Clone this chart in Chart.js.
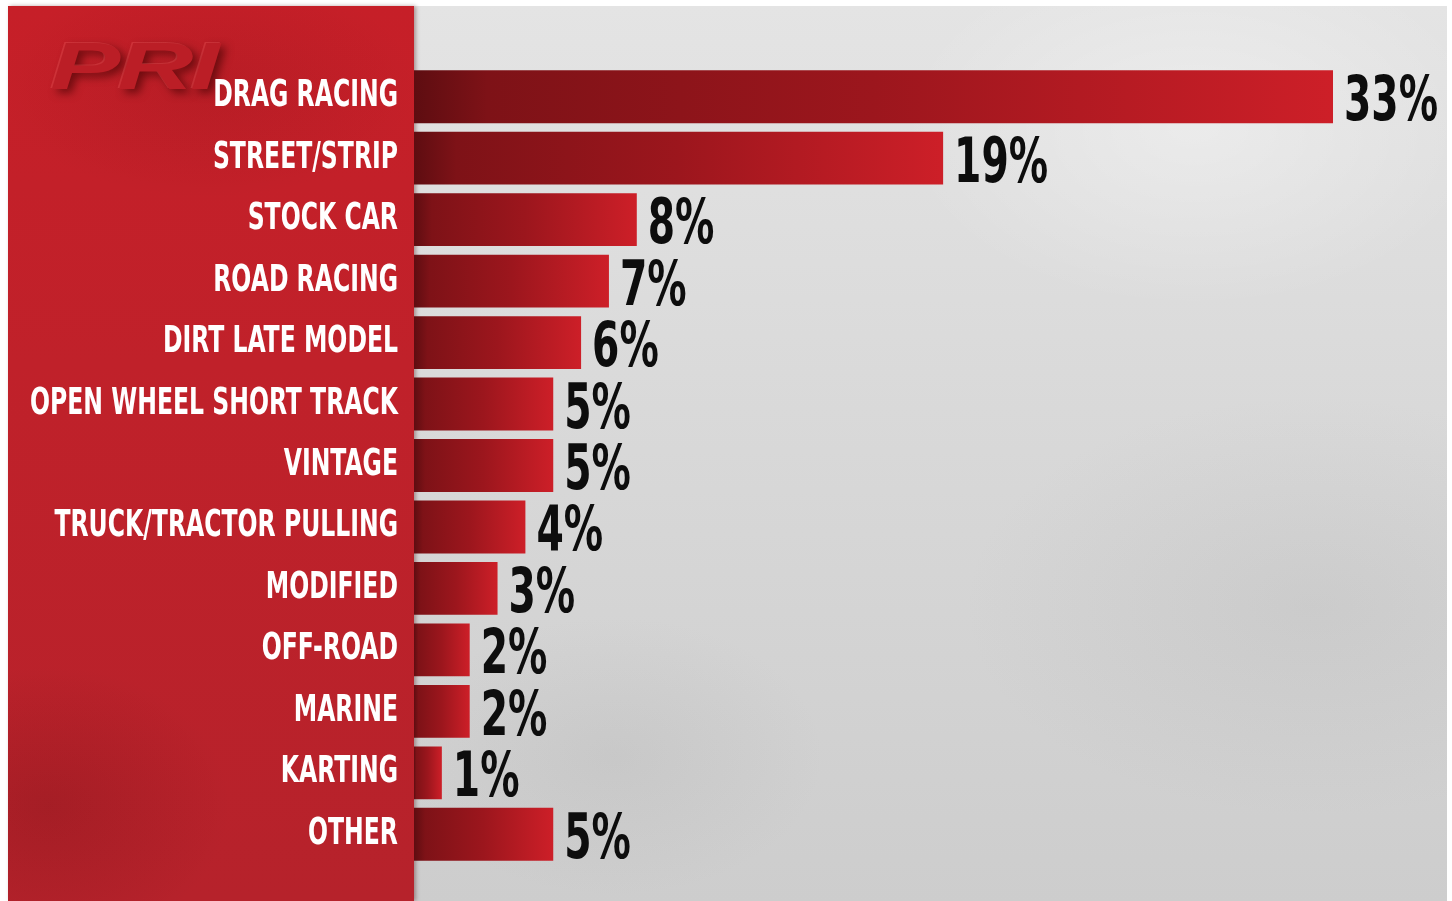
<!DOCTYPE html>
<html lang="en">
<head>
    <meta charset="UTF-8">
    <title>Racing Segments</title>
    <style>
        html, body {
            margin: 0;
            padding: 0;
            background: #ffffff;
        }
        .page {
            position: relative;
            width: 1452px;
            height: 901px;
            overflow: hidden;
        }
        .concrete {
            position: absolute;
            left: 414px;
            top: 6px;
            width: 1033px;
            height: 895px;
            background:
                radial-gradient(ellipse 420px 260px at 780px 120px, rgba(255,255,255,0.35), rgba(255,255,255,0) 70%),
                radial-gradient(ellipse 500px 300px at 900px 600px, rgba(150,150,150,0.14), rgba(150,150,150,0) 70%),
                radial-gradient(ellipse 300px 200px at 200px 750px, rgba(140,140,140,0.12), rgba(140,140,140,0) 70%),
                linear-gradient(180deg, #e4e4e4 0%, #d9d9d9 45%, #cdcdcd 100%);
        }
        .panel {
            position: absolute;
            left: 8px;
            top: 6px;
            width: 406px;
            height: 895px;
            background:
                radial-gradient(ellipse 260px 200px at 40px 800px, rgba(80,10,12,0.18), rgba(80,10,12,0) 70%),
                radial-gradient(ellipse 300px 160px at 200px 80px, rgba(90,10,14,0.12), rgba(90,10,14,0) 70%),
                linear-gradient(180deg, #c61f28 0%, #c0212a 40%, #b6222b 100%);
            box-shadow: 2px 0 4px rgba(60,0,0,0.35);
        }
        .logo {
            position: absolute;
            left: 50px;
            top: 28px;
            font-family: "Liberation Sans", Arial, sans-serif;
            font-weight: bold;
            font-style: italic;
            font-size: 66px;
            letter-spacing: -2px;
            color: #bb1e26;
            transform: scaleX(1.6);
            transform-origin: left top;
            text-shadow: -1px -1px 0 rgba(255,110,110,0.25), 3px 4px 7px rgba(60,0,0,0.6);
        }
        .chart-box {
            position: absolute;
            left: 0;
            top: 0;
            width: 1452px;
            height: 901px;
        }
    </style>
</head>
<body>
<div class="page">
    <div class="concrete"></div>
    <div class="panel"></div>
    <div class="logo">PRI</div>
    <div class="chart-box">
        <canvas id="chart"></canvas>
    </div>
</div>

<script src="https://cdn.jsdelivr.net/npm/chart.js"></script>
<script>
    const categories = [
        'DRAG RACING', 'STREET/STRIP', 'STOCK CAR', 'ROAD RACING', 'DIRT LATE MODEL',
        'OPEN WHEEL SHORT TRACK', 'VINTAGE', 'TRUCK/TRACTOR PULLING', 'MODIFIED',
        'OFF-ROAD', 'MARINE', 'KARTING', 'OTHER'
    ];
    const shares = [33, 19, 8, 7, 6, 5, 5, 4, 3, 2, 2, 1, 5];

    const labelFont = 'bold 37px "Liberation Sans Narrow", "DejaVu Sans Condensed", sans-serif';
    const valueFont = 'bold 62px "Liberation Sans Narrow", "DejaVu Sans Condensed", sans-serif';

    // dark-to-bright gradient running the length of each bar
    function barFill(context) {
        const chart = context.chart;
        if (!chart.chartArea) return '#a3161d';
        const x = chart.scales.x;
        const x0 = x.getPixelForValue(0);
        const x1 = x.getPixelForValue(shares[context.dataIndex]);
        const g = chart.ctx.createLinearGradient(x0, 0, x1, 0);
        g.addColorStop(0, '#5e0d11');
        g.addColorStop(0.08, '#7e1217');
        g.addColorStop(0.5, '#9c161d');
        g.addColorStop(1, '#cd1f28');
        return g;
    }

    // category names on the red panel and percentages after each bar
    const textPlugin = {
        id: 'barText',
        afterDatasetsDraw(chart) {
            const ctx = chart.ctx;
            const y = chart.scales.y;
            const meta = chart.getDatasetMeta(0);

            ctx.save();
            ctx.font = labelFont;
            const labelScale = 368 / ctx.measureText('OPEN WHEEL SHORT TRACK').width;
            ctx.fillStyle = '#ffffff';
            ctx.textAlign = 'right';
            ctx.textBaseline = 'alphabetic';
            categories.forEach((name, i) => {
                const cy = y.getPixelForValue(i) - 4 + 13.5;
                ctx.save();
                ctx.translate(398, cy);
                ctx.scale(labelScale, 1);
                ctx.fillText(name, 0, 0);
                ctx.restore();
            });

            ctx.font = valueFont;
            const valueScale = 94 / ctx.measureText('33%').width;
            ctx.fillStyle = '#0d0d0d';
            ctx.textAlign = 'left';
            meta.data.forEach((bar, i) => {
                ctx.save();
                ctx.translate(bar.x + 11, bar.y + 1 + 22.5);
                ctx.scale(valueScale, 1);
                ctx.fillText(shares[i] + '%', 0, 0);
                ctx.restore();
            });
            ctx.restore();
        }
    };

    new Chart(document.getElementById('chart'), {
        type: 'bar',
        data: {
            labels: categories,
            datasets: [{
                data: shares,
                backgroundColor: barFill,
                borderWidth: 0,
                categoryPercentage: 1,
                barPercentage: 0.86
            }]
        },
        options: {
            indexAxis: 'y',
            responsive: true,
            maintainAspectRatio: false,
            animation: false,
            layout: {
                padding: { top: 66, bottom: 36, left: 0, right: 7.6 }
            },
            plugins: {
                legend: { display: false },
                tooltip: { enabled: false }
            },
            scales: {
                x: {
                    display: false,
                    min: 0,
                    max: 37
                },
                y: {
                    grid: { display: false },
                    border: { display: false },
                    ticks: { display: false },
                    afterFit(scale) {
                        scale.width = 414;
                    }
                }
            }
        },
        plugins: [textPlugin]
    });
</script>
</body>
</html>
